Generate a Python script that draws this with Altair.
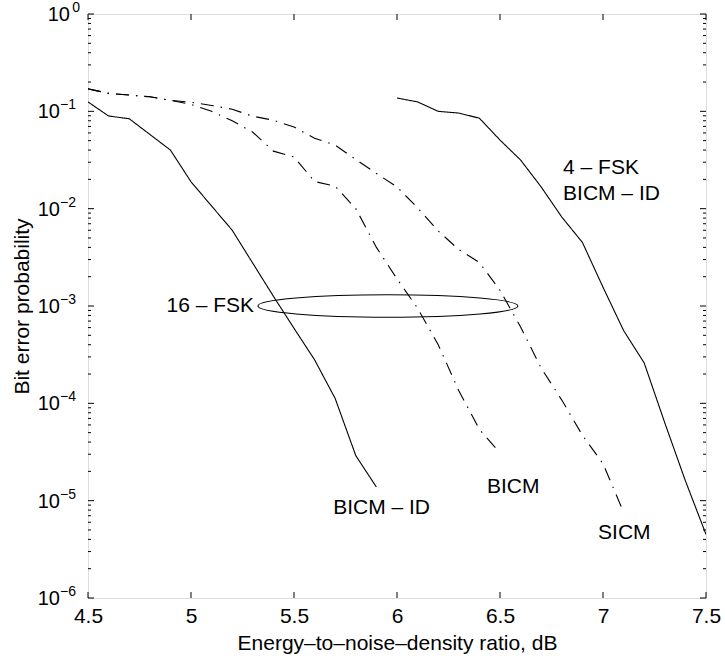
import altair as alt
import pandas as pd

# ---------------- data ----------------
# 16-FSK BICM-ID (solid, left)
snr_id16 = [4.5, 4.6, 4.7, 4.9, 5.0, 5.2, 5.3, 5.4, 5.5, 5.6, 5.7, 5.8, 5.9]
ber_id16 = [0.125, 0.0895, 0.084, 0.040, 0.0189, 0.0060, 0.00275, 0.00126,
            5.9e-4, 2.8e-4, 1.12e-4, 2.9e-5, 1.38e-5]

# 16-FSK BICM (dash-dot, middle)
snr_bicm = [4.5, 4.6, 4.7, 4.8, 4.9, 5.0, 5.1, 5.2, 5.3, 5.4, 5.5, 5.6, 5.7,
            5.8, 5.9, 6.0, 6.1, 6.2, 6.3, 6.4, 6.5]
ber_bicm = [0.170, 0.153, 0.147, 0.141, 0.130, 0.118, 0.100, 0.080, 0.061,
            0.039, 0.034, 0.019, 0.017, 0.010, 0.0040, 0.0019, 9.5e-4,
            4.0e-4, 1.35e-4, 5.4e-5, 3.1e-5]

# 16-FSK SICM (dash-dot, right)
snr_sicm = [4.5, 4.6, 4.7, 4.8, 4.9, 5.0, 5.1, 5.2, 5.3, 5.4, 5.5, 5.6, 5.7,
            5.8, 5.9, 6.0, 6.1, 6.2, 6.3, 6.4, 6.5, 6.6, 6.7, 6.8, 6.9, 7.0, 7.1]
ber_sicm = [0.170, 0.153, 0.147, 0.141, 0.130, 0.124, 0.115, 0.105, 0.089,
            0.081, 0.069, 0.053, 0.045, 0.032, 0.023, 0.0167, 0.0102, 0.0059,
            0.0038, 0.0028, 0.00145, 6.1e-4, 2.3e-4, 1.08e-4, 4.7e-5, 2.4e-5,
            7.6e-6]

# 4-FSK BICM-ID (solid, far right)
snr_id4 = [6.0, 6.1, 6.2, 6.3, 6.4, 6.5, 6.6, 6.7, 6.8, 6.9, 7.0, 7.1, 7.2,
           7.3, 7.4, 7.5]
ber_id4 = [0.137, 0.125, 0.100, 0.096, 0.085, 0.0507, 0.0316, 0.0167, 0.0082,
           0.0045, 0.00156, 5.6e-4, 2.6e-4, 6.3e-5, 1.6e-5, 4.5e-6]

# annotations (data coordinates)
ann_left_text = ["4 \u2013 FSK", "BICM \u2013 ID", "BICM \u2013 ID", "BICM", "SICM"]
ann_left_x = [6.806, 6.806, 5.69, 6.437, 6.976]
ann_left_y = [0.0261, 0.0141, 8.4e-6, 1.38e-5, 4.6e-6]
ann_right_text = ["16 \u2013 FSK"]
ann_right_x = [5.306]
ann_right_y = [1.0e-3]

ellipse_x = [5.956]
ellipse_y = [1.0e-3]

# axis ticks
x_ticks = [4.5, 5.0, 5.5, 6.0, 6.5, 7.0, 7.5]
y_major = [1, 1e-1, 1e-2, 1e-3, 1e-4, 1e-5, 1e-6]
y_exp = ["0", "\u22121", "\u22122", "\u22123", "\u22124", "\u22125", "\u22126"]
y_minor = [m * 10.0 ** e for e in range(-6, 0) for m in range(2, 10)]

# ---------------- layout ----------------
W, H = 618, 584
FONT = "Liberation Sans"

rows = []
for name, sty, xs, ys in [
    ("id16", "solid", snr_id16, ber_id16),
    ("bicm", "dashdot", snr_bicm, ber_bicm),
    ("sicm", "dashdot", snr_sicm, ber_sicm),
    ("id4", "solid", snr_id4, ber_id4),
]:
    for a, b in zip(xs, ys):
        rows.append({"curve": name, "style": sty, "snr": a, "ber": b})
df = pd.DataFrame(rows)

xscale = alt.Scale(domain=[4.5, 7.5], nice=False, zero=False)
yscale = alt.Scale(type="log", domain=[1e-6, 1], nice=False)

lines = alt.Chart(df).mark_line(color="black", strokeWidth=1.1, clip=True).encode(
    x=alt.X("snr:Q", scale=xscale,
            axis=alt.Axis(values=x_ticks, format="~g", ticks=False, domain=False,
                          grid=False, labelFlush=False, labelOverlap=False,
                          labelFontSize=21, labelFont=FONT, labelColor="black",
                          labelPadding=7, tickSize=0,
                          title="Energy\u2013to\u2013noise\u2013density ratio, dB",
                          titleFont=FONT, titleFontSize=21, titleFontWeight="normal",
                          titleColor="black", titlePadding=6)),
    y=alt.Y("ber:Q", scale=yscale,
            axis=alt.Axis(labels=False, ticks=False, domain=False, grid=False,
                          tickSize=0, title="Bit error probability",
                          titleFont=FONT, titleFontSize=21, titleFontWeight="normal",
                          titleColor="black", titlePadding=56)),
    detail="curve:N",
    strokeDash=alt.StrokeDash("style:N",
                              scale=alt.Scale(domain=["solid", "dashdot"],
                                              range=[[1, 0], [13, 7, 1.5, 7]]),
                              legend=None),
)

ell_df = pd.DataFrame({"x": ellipse_x, "y": ellipse_y})
ratio = 11.2 / 130.0
ell_path = f"M -1 0 A 1 {ratio:.4f} 0 1 1 1 0 A 1 {ratio:.4f} 0 1 1 -1 0 Z"
ellipse = alt.Chart(ell_df).mark_point(
    shape=ell_path, size=260 * 260, filled=False, stroke="black",
    strokeWidth=1.1, opacity=1
).encode(x=alt.X("x:Q", scale=xscale), y=alt.Y("y:Q", scale=yscale))

annL = alt.Chart(pd.DataFrame({"t": ann_left_text, "x": ann_left_x, "y": ann_left_y})).mark_text(
    align="left", baseline="middle", font=FONT, fontSize=21, color="black"
).encode(x="x:Q", y="y:Q", text="t:N")

annR = alt.Chart(pd.DataFrame({"t": ann_right_text, "x": ann_right_x, "y": ann_right_y})).mark_text(
    align="right", baseline="middle", font=FONT, fontSize=21, color="black"
).encode(x="x:Q", y="y:Q", text="t:N")

# y tick labels 10^k
ylab = pd.DataFrame({"v": y_major, "e": y_exp})
ylab_top = ylab[ylab["e"] == "0"]
ylab_rest = ylab[ylab["e"] != "0"]

ten_top = alt.Chart(ylab_top).mark_text(align="right", baseline="middle", font=FONT,
                                        fontSize=20, color="black", dx=-18, dy=1).encode(
    x=alt.datum(4.5), y="v:Q", text=alt.value("10"))
exp_top = alt.Chart(ylab_top).mark_text(align="right", baseline="middle", font=FONT,
                                        fontSize=14, color="black", dx=-8, dy=-6).encode(
    x=alt.datum(4.5), y="v:Q", text="e:N")
ten_rest = alt.Chart(ylab_rest).mark_text(align="right", baseline="middle", font=FONT,
                                          fontSize=20, color="black", dx=-28, dy=1).encode(
    x=alt.datum(4.5), y="v:Q", text=alt.value("10"))
exp_rest = alt.Chart(ylab_rest).mark_text(align="right", baseline="middle", font=FONT,
                                          fontSize=14, color="black", dx=-12, dy=-6).encode(
    x=alt.datum(4.5), y="v:Q", text="e:N")

# inward ticks
ymaj_df = pd.DataFrame({"v": y_major})
ymin_df = pd.DataFrame({"v": y_minor})
xt_df = pd.DataFrame({"v": x_ticks})

def yrule(d, x0, x1):
    return alt.Chart(d).mark_rule(color="black", strokeWidth=1).encode(
        y="v:Q", x=alt.value(x0), x2=alt.value(x1))

def xrule(d, y0, y1):
    return alt.Chart(d).mark_rule(color="black", strokeWidth=1).encode(
        x="v:Q", y=alt.value(y0), y2=alt.value(y1))

ticks = [
    yrule(ymaj_df, 0, 6), yrule(ymin_df, 0, 3),
    yrule(ymaj_df, W - 6, W), yrule(ymin_df, W - 3, W),
    xrule(xt_df, H - 6, H), xrule(xt_df, 0, 6),
]

chart = alt.layer(
    lines, ellipse, annL, annR, ten_top, exp_top, ten_rest, exp_rest, *ticks
).properties(
    width=W, height=H,
    autosize=alt.AutoSizeParams(type="none"),
    padding={"left": 88, "top": 14, "right": 19, "bottom": 62},
).configure_view(
    stroke="black", strokeWidth=1
).configure(
    font=FONT, background="white"
)

chart.save("out.html", embed_options={"renderer": "svg", "actions": False})
